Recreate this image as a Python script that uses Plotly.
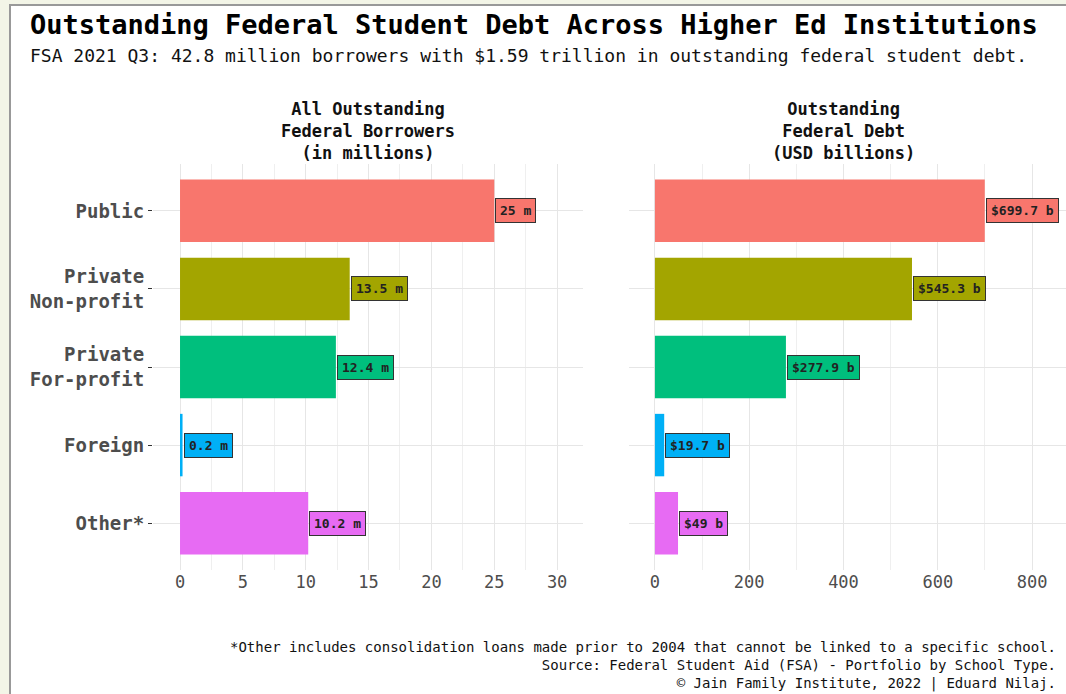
import plotly.graph_objects as go

categories = ["Public", "Private<br>Non-profit", "Private<br>For-profit", "Foreign", "Other*"]
borrowers_m = [25.0, 13.5, 12.4, 0.2, 10.2]
debt_b = [699.7, 545.3, 277.9, 19.7, 49.0]
borrower_labels = ["25 m", "13.5 m", "12.4 m", "0.2 m", "10.2 m"]
debt_labels = ["$699.7 b", "$545.3 b", "$277.9 b", "$19.7 b", "$49 b"]
colors = ["#F8766D", "#A3A500", "#00BF7D", "#00B0F6", "#E76BF3"]
left_ticks = [0, 5, 10, 15, 20, 25, 30]
right_ticks = [0, 200, 400, 600, 800]

W, H = 1066, 694
MONO = "DejaVu Sans Mono"

def px(x):
    return x / W

def py(y):
    return 1 - y / H

fig = go.Figure()

fig.add_trace(go.Bar(
    x=borrowers_m, y=categories, orientation="h",
    marker=dict(color=colors, line=dict(width=0)), width=0.8,
    xaxis="x", yaxis="y", showlegend=False, hoverinfo="skip"))
fig.add_trace(go.Bar(
    x=debt_b, y=categories, orientation="h",
    marker=dict(color=colors, line=dict(width=0)), width=0.8,
    xaxis="x2", yaxis="y2", showlegend=False, hoverinfo="skip"))

grid = "#e6e6e6"
y_dom = [py(570), py(164)]

fig.update_layout(
    width=W, height=H,
    margin=dict(l=0, r=0, t=0, b=0),
    paper_bgcolor="#f3f5e7",
    plot_bgcolor="rgba(0,0,0,0)",
    bargap=0.2,
    xaxis=dict(domain=[px(153), px(583)], range=[-2.15, 32.06],
               tickvals=left_ticks, showgrid=True, gridcolor=grid, gridwidth=1,
               minor=dict(dtick=2.5, tick0=0, showgrid=True, gridcolor="#efefef", gridwidth=1),
               zeroline=False, showline=False, ticks="",
               tickfont=dict(family=MONO, size=17, color="#4d4d4d"), anchor="y"),
    yaxis=dict(domain=y_dom, range=[4.6, -0.6], type="category",
               categoryorder="array", categoryarray=categories,
               showgrid=True, gridcolor=grid, zeroline=False, showline=False,
               ticks="outside", ticklen=4, tickcolor="#333333", tickwidth=1,
               tickfont=dict(family=MONO, size=19, color="#4d4d4d", weight="bold"),
               anchor="x"),
    xaxis2=dict(domain=[px(629), 1.0], range=[-55, 872],
                tickvals=right_ticks, showgrid=True, gridcolor=grid, gridwidth=1,
                minor=dict(dtick=100, tick0=0, showgrid=True, gridcolor="#efefef", gridwidth=1),
                zeroline=False, showline=False, ticks="",
                tickfont=dict(family=MONO, size=17, color="#4d4d4d"), anchor="y2"),
    yaxis2=dict(domain=y_dom, range=[4.6, -0.6], type="category",
                categoryorder="array", categoryarray=categories,
                showgrid=True, gridcolor=grid, zeroline=False, showline=False,
                showticklabels=False, ticks="", anchor="x2"),
)

# white panel with border
fig.add_shape(type="rect", xref="paper", yref="paper",
              x0=px(10), x1=px(W + 20), y0=py(H + 20), y1=py(5),
              fillcolor="white", line=dict(color="#999999", width=2), layer="below")

annotations = []
for cat, v, lab, c in zip(categories, borrowers_m, borrower_labels, colors):
    annotations.append(dict(x=v, y=cat, xref="x", yref="y", text=lab,
                            xanchor="left", yanchor="middle", xshift=1, showarrow=False,
                            bgcolor=c, bordercolor="#333333", borderwidth=1, borderpad=4,
                            font=dict(family=MONO, size=13, color="#222222", weight="bold")))
for cat, v, lab, c in zip(categories, debt_b, debt_labels, colors):
    annotations.append(dict(x=v, y=cat, xref="x2", yref="y2", text=lab,
                            xanchor="left", yanchor="middle", xshift=1, showarrow=False,
                            bgcolor=c, bordercolor="#333333", borderwidth=1, borderpad=4,
                            font=dict(family=MONO, size=13, color="#222222", weight="bold")))

annotations += [
    dict(x=px(28), y=py(25), xref="paper", yref="paper", xanchor="left", yanchor="middle",
         text="Outstanding Federal Student Debt Across Higher Ed Institutions", showarrow=False,
         font=dict(family=MONO, size=27, color="#000000", weight="bold")),
    dict(x=px(28), y=py(56), xref="paper", yref="paper", xanchor="left", yanchor="middle",
         text="FSA 2021 Q3: 42.8 million borrowers with $1.59 trillion in outstanding federal student debt.",
         showarrow=False, font=dict(family=MONO, size=18, color="#111111")),
    dict(x=px(368), y=py(131), xref="paper", yref="paper", xanchor="center", yanchor="middle",
         text="All Outstanding<br>Federal Borrowers<br>(in millions)", showarrow=False, align="center",
         font=dict(family=MONO, size=17, color="#111111", weight="bold")),
    dict(x=px(843), y=py(131), xref="paper", yref="paper", xanchor="center", yanchor="middle",
         text="Outstanding<br>Federal Debt<br>(USD billions)", showarrow=False, align="center",
         font=dict(family=MONO, size=17, color="#111111", weight="bold")),
    dict(x=px(1058), y=py(665), xref="paper", yref="paper", xanchor="right", yanchor="middle",
         text="*Other includes consolidation loans made prior to 2004 that cannot be linked to a specific school.<br>"
              "Source: Federal Student Aid (FSA) - Portfolio by School Type.<br>"
              "© Jain Family Institute, 2022 | Eduard Nilaj.",
         showarrow=False, align="right",
         font=dict(family=MONO, size=14, color="#111111")),
]
fig.update_layout(annotations=annotations)

fig.write_html("out.html", config={"displayModeBar": False},
               post_script="document.body.style.margin='0';document.body.style.overflow='hidden';")
